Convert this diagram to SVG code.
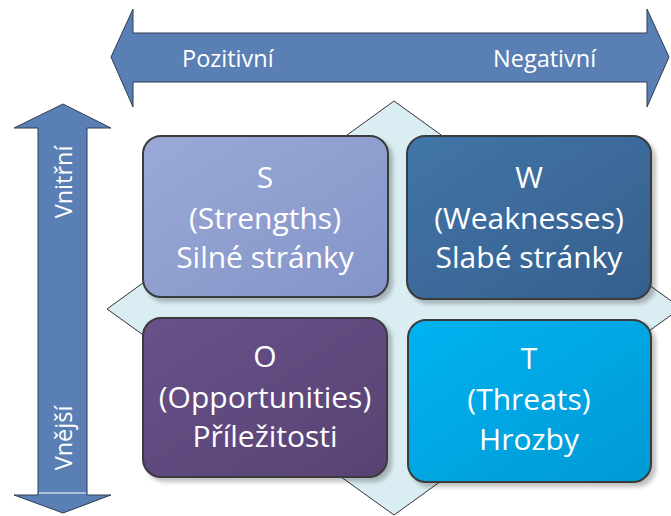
<svg xmlns="http://www.w3.org/2000/svg" width="671" height="516" viewBox="0 0 671 516">
  <defs>
    <linearGradient id="gS" x1="0" y1="0" x2="1" y2="1">
      <stop offset="0" stop-color="#9aa9d6"/>
      <stop offset="1" stop-color="#8494c8"/>
    </linearGradient>
    <linearGradient id="gW" x1="0" y1="0" x2="1" y2="1">
      <stop offset="0" stop-color="#4175a8"/>
      <stop offset="1" stop-color="#355f8d"/>
    </linearGradient>
    <linearGradient id="gO" x1="0" y1="0" x2="1" y2="1">
      <stop offset="0" stop-color="#68528a"/>
      <stop offset="1" stop-color="#584272"/>
    </linearGradient>
    <linearGradient id="gT" x1="0" y1="0" x2="1" y2="1">
      <stop offset="0" stop-color="#00b3f1"/>
      <stop offset="1" stop-color="#0099d4"/>
    </linearGradient>
    <filter id="shadow" x="-10%" y="-10%" width="130%" height="130%">
      <feGaussianBlur in="SourceAlpha" stdDeviation="2"/>
      <feOffset dx="4" dy="4"/>
      <feComponentTransfer><feFuncA type="linear" slope="0.25"/></feComponentTransfer>
      <feMerge><feMergeNode/><feMergeNode in="SourceGraphic"/></feMerge>
    </filter>
  </defs>
  <style>
    .arrow { fill: #5a7fb4; stroke: #2f3d52; stroke-width: 1; }
    .axis { font-family: "Open Sans", "Liberation Sans", sans-serif; font-size: 23.5px; fill: #ffffff; }
    .box { stroke: #3a3a3a; stroke-width: 2; }
    .lbl { font-family: "Open Sans", "Liberation Sans", sans-serif; font-size: 30px; fill: #ffffff; text-anchor: middle; }
  </style>

  <!-- background diamond -->
  <g id="diamond">
    <polygon points="394,101 681,308 394,515 107,309" fill="#daedf3" stroke="#333333" stroke-width="1"/>
  </g>

  <!-- horizontal axis: positive / negative -->
  <g id="axis-horizontal">
    <polygon class="arrow" points="111,57 133,9 133,33 647,33 647,9 669,57 647,107 647,82 133,82 133,107"/>
    <text class="axis" x="182" y="67">Pozitivní</text>
    <text class="axis" x="493" y="67">Negativní</text>
  </g>

  <!-- vertical axis: internal / external -->
  <g id="axis-vertical">
    <polygon class="arrow" points="63,104 111,128 87,128 87,495 111,495 63,513 14,495 38,495 38,128 14,128"/>
    <line x1="39" y1="493" x2="86" y2="493" stroke="#c9d6ea" stroke-width="1.5"/>
    <text class="axis" transform="translate(72,182) rotate(-90)" text-anchor="middle">Vnitřní</text>
    <text class="axis" transform="translate(72,438) rotate(-90)" text-anchor="middle">Vnější</text>
  </g>

  <g id="node-S">
    <rect class="box" x="143" y="136" width="245" height="161" rx="18" fill="url(#gS)" filter="url(#shadow)"/>
    <text class="lbl" x="265" y="188">S</text>
    <text class="lbl" x="265" y="229">(Strengths)</text>
    <text class="lbl" x="265" y="268">Silné stránky</text>
  </g>

  <g id="node-W">
    <rect class="box" x="407" y="136" width="244" height="163" rx="18" fill="url(#gW)" filter="url(#shadow)"/>
    <text class="lbl" x="529" y="188">W</text>
    <text class="lbl" x="529" y="229">(Weaknesses)</text>
    <text class="lbl" x="529" y="268">Slabé stránky</text>
  </g>

  <g id="node-O">
    <rect class="box" x="143" y="318" width="244" height="159" rx="18" fill="url(#gO)" filter="url(#shadow)"/>
    <text class="lbl" x="265" y="367">O</text>
    <text class="lbl" x="265" y="408">(Opportunities)</text>
    <text class="lbl" x="265" y="447">Příležitosti</text>
  </g>

  <g id="node-T">
    <rect class="box" x="408" y="320" width="243" height="162" rx="18" fill="url(#gT)" filter="url(#shadow)"/>
    <text class="lbl" x="529" y="369">T</text>
    <text class="lbl" x="529" y="410">(Threats)</text>
    <text class="lbl" x="529" y="450">Hrozby</text>
  </g>
</svg>
